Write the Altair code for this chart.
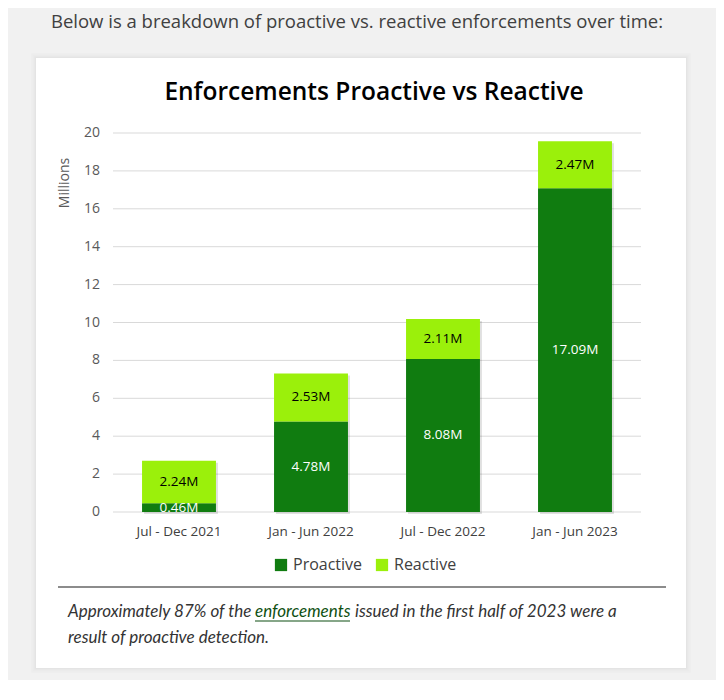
import altair as alt
import pandas as pd

periods = ["Jul - Dec 2021", "Jan - Jun 2022", "Jul - Dec 2022", "Jan - Jun 2023"]
proactive = [0.46, 4.78, 8.08, 17.09]
reactive = [2.24, 2.53, 2.11, 2.47]
series = ["Proactive", "Reactive"]
colors = ["#107C10", "#9BF00B"]
label_colors = ["white", "black"]
y_ticks = [0, 2, 4, 6, 8, 10, 12, 14, 16, 18, 20]

heading = "Below is a breakdown of proactive vs. reactive enforcements over time:"
title = "Enforcements Proactive vs Reactive"
y_title = "Millions"
note_a = "Approximately 87% of the"
note_link = "enforcements"
note_b = "issued in the first half of 2023 were a"
note_line2 = "result of proactive detection."

rows = []
for i, p in enumerate(periods):
    base = 0.0
    for j, vals in enumerate([proactive, reactive]):
        v = vals[i]
        rows.append({"period": p, "series": series[j], "value": v, "ord": j,
                     "mid": base + v / 2, "label": f"{v:.2f}M", "lc": label_colors[j]})
        base += v
df = pd.DataFrame(rows)
tot = pd.DataFrame({"period": periods, "total": [a + b for a, b in zip(proactive, reactive)]})
ticks = pd.DataFrame({"t": y_ticks, "tl": [str(t) for t in y_ticks]})
one = pd.DataFrame({"k": [0]})

FONT = "Open Sans"
xscale = alt.Scale(domain=periods, paddingInner=0.44, paddingOuter=0.22)
yscale = alt.Scale(domain=[0, 20], nice=False)

def rect(x, x2, y, y2, color="#f1f1f1"):
    return alt.Chart(one).mark_rect(color=color).encode(
        x=alt.value(x), x2=alt.value(x2), y=alt.value(y), y2=alt.value(y2))

def outline(k, op):
    return alt.Chart(one).mark_rect(filled=False, stroke="black", strokeOpacity=op, strokeWidth=1).encode(
        x=alt.value(-77 - k + 0.5), x2=alt.value(573 + k - 0.5),
        y=alt.value(-75 - k + 0.5), y2=alt.value(535 + k - 0.5))

def txt(s, x, y, **kw):
    return alt.Chart(one).mark_text(text=s, **kw).encode(x=alt.value(x), y=alt.value(y))

# frame around white card
frame = [rect(-200, 800, -300, -75), rect(-200, 800, 535, 800),
         rect(-200, -77, -75, 535), rect(573, 800, -75, 535)]
shadows = [outline(k, op) for k, op in [(1, 0.05), (2, 0.035), (3, 0.025), (4, 0.015), (5, 0.01)]]

xaxis = alt.Axis(title=None, labelAngle=0, ticks=False, domain=False, labelFontSize=13.5,
                 labelColor="#404040", labelPadding=12, labelFont=FONT, grid=False)
xenc = alt.X("period:N", sort=periods, scale=xscale, axis=xaxis)

grid = alt.Chart(ticks).mark_rule(color="#d9d9d9", strokeWidth=1).encode(
    y=alt.Y("t:Q", scale=yscale, axis=None), x=alt.value(0), x2=alt.value(528))
tick_labels = alt.Chart(ticks).mark_text(fontSize=14, font=FONT, color="#595959", align="right",
                                         baseline="middle").encode(
    y=alt.Y("t:Q", scale=yscale, axis=None), x=alt.value(-13), text="tl:N")

bar_shadow = alt.Chart(tot).mark_bar(color="black", opacity=0.12, xOffset=2, yOffset=2).encode(
    x=xenc, y=alt.Y("total:Q", scale=yscale, axis=None))

bars = alt.Chart(df).mark_bar().encode(
    x=xenc,
    y=alt.Y("value:Q", stack="zero", scale=yscale, axis=None),
    color=alt.Color("series:N", scale=alt.Scale(domain=series, range=colors),
                    legend=alt.Legend(orient="none", legendX=160, legendY=424, direction="horizontal",
                                      title=None, symbolType="square", symbolSize=150,
                                      symbolStrokeWidth=0, labelFontSize=16, labelColor="#404040",
                                      labelFont=FONT, columnPadding=11, labelOffset=4)),
    order=alt.Order("ord:Q", sort="ascending"),
)

labels = alt.Chart(df).mark_text(fontSize=13.5, font=FONT, baseline="middle").encode(
    x=xenc,
    y=alt.Y("mid:Q", scale=yscale, axis=None),
    text="label:N",
    color=alt.Color("lc:N", scale=None),
)

NF = "Lato"
texts = [
    txt(heading, 244, -111, fontSize=18.5, font=FONT, color="#404040", align="center", baseline="middle"),
    txt(title, 261, -40, fontSize=24.5, font=FONT, fontWeight=600, color="black", align="center", baseline="middle"),
    txt(y_title, -48, 50, fontSize=14, font=FONT, color="#595959", align="center", baseline="middle", angle=270),
    txt(note_a, -45, 479, fontSize=17, font=NF, fontStyle="italic", color="#333333", align="left", baseline="middle"),
    txt(note_link, 142, 479, fontSize=17, font=NF, fontStyle="italic", color="#0e4f12", align="left", baseline="middle"),
    txt(note_b, 242, 479, fontSize=17, font=NF, fontStyle="italic", color="#333333", align="left", baseline="middle"),
    txt(note_line2, -45, 505, fontSize=17, font=NF, fontStyle="italic", color="#333333", align="left", baseline="middle"),
]
underline = alt.Chart(one).mark_rule(color="#0e4f12", strokeWidth=1.2).encode(
    x=alt.value(142), x2=alt.value(237), y=alt.value(488))
sep = alt.Chart(one).mark_rule(color="#8c8c8c", strokeWidth=2).encode(
    x=alt.value(-55), x2=alt.value(553), y=alt.value(454))

chart = alt.layer(*frame, *shadows, grid, tick_labels, bar_shadow, bars, labels, sep, underline, *texts).properties(
    width=528, height=379,
    autosize=alt.AutoSizeParams(type="none"),
    padding={"left": 105, "top": 125, "right": 75, "bottom": 168},
).configure(background="white").configure_view(stroke=None)

chart.save("out.html", embed_options={"renderer": "svg", "actions": False})
